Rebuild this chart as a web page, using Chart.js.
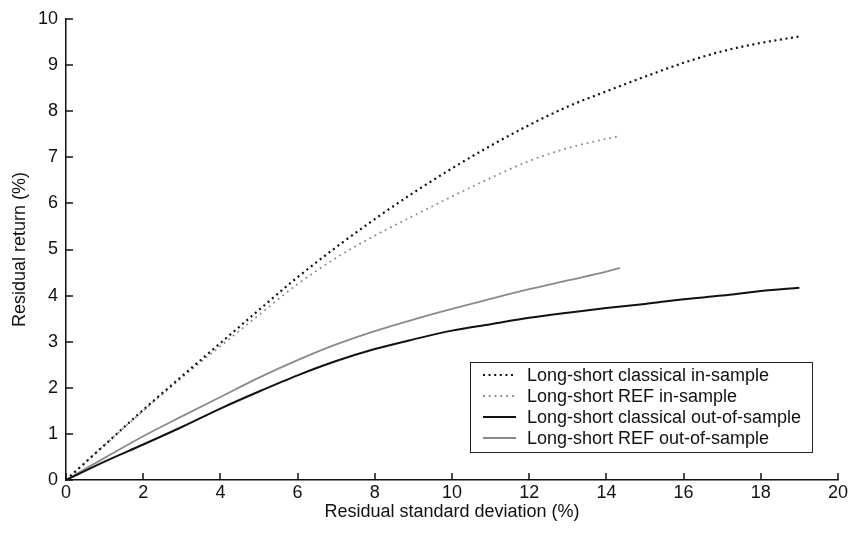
<!DOCTYPE html>
<html>
<head>
<meta charset="utf-8">
<script src="https://cdn.jsdelivr.net/npm/chart.js@4.4.1/dist/chart.umd.min.js"></script>
<style>
html,body{margin:0;padding:0;background:#fff;}
#wrap{width:851px;height:538px;position:relative;}
</style>
</head>
<body>
<div id="wrap"><canvas id="c" width="851" height="538"></canvas></div>
<script>
// Data
const xTicks = [0, 2, 4, 6, 8, 10, 12, 14, 16, 18, 20];
const yTicks = [0, 1, 2, 3, 4, 5, 6, 7, 8, 9, 10];
const seriesLabels = [
  "Long-short classical in-sample",
  "Long-short REF in-sample",
  "Long-short classical out-of-sample",
  "Long-short REF out-of-sample"
];
const classicalInX = [0, 1, 2, 3, 4, 5, 6, 7, 8, 9, 10, 11, 12, 13, 14, 15, 16, 17, 18, 19];
const classicalInY = [0, 0.76, 1.52, 2.25, 2.97, 3.69, 4.4, 5.05, 5.66, 6.23, 6.76, 7.25, 7.7, 8.1, 8.43, 8.75, 9.05, 9.3, 9.48, 9.62];
const refInX = [0, 1, 2, 3, 4, 5, 6, 7, 8, 9, 10, 11, 12, 13, 14, 14.35];
const refInY = [0, 0.76, 1.5, 2.22, 2.9, 3.58, 4.25, 4.82, 5.3, 5.73, 6.15, 6.55, 6.92, 7.2, 7.4, 7.46];
const classicalOutX = [0, 1, 2, 3, 4, 5, 6, 7, 8, 9, 10, 11, 12, 13, 14, 15, 16, 17, 18, 19];
const classicalOutY = [0, 0.4, 0.77, 1.15, 1.55, 1.92, 2.27, 2.58, 2.84, 3.05, 3.24, 3.38, 3.52, 3.63, 3.73, 3.82, 3.92, 4.0, 4.1, 4.17];
const refOutX = [0, 1, 2, 3, 4, 5, 6, 7, 8, 9, 10, 11, 12, 13, 14, 14.35];
const refOutY = [0, 0.48, 0.95, 1.38, 1.8, 2.22, 2.6, 2.94, 3.23, 3.48, 3.71, 3.93, 4.14, 4.33, 4.52, 4.6];

function pts(xs, ys) { return xs.map((x, i) => ({x: x, y: ys[i]})); }

const FONT = "'Liberation Sans', Arial, Helvetica, sans-serif";

const innerTicks = {
  id: 'innerTicks',
  afterDraw(chart) {
    const ctx = chart.ctx;
    const xs = chart.scales.x, ys = chart.scales.y;
    const a = chart.chartArea;
    ctx.save();
    ctx.strokeStyle = '#111';
    ctx.lineWidth = 1.5;
    ctx.beginPath();
    xTicks.forEach(v => {
      const px = Math.round(xs.getPixelForValue(v));
      ctx.moveTo(px, a.bottom);
      ctx.lineTo(px, a.bottom - 7);
    });
    yTicks.forEach(v => {
      const py = Math.round(ys.getPixelForValue(v));
      ctx.moveTo(a.left, py);
      ctx.lineTo(a.left + 7, py);
    });
    ctx.stroke();
    ctx.restore();
  }
};

const boxLegend = {
  id: 'boxLegend',
  afterDraw(chart) {
    const ctx = chart.ctx;
    const bx = 470, by = 362, bw = 342, bh = 90;
    ctx.save();
    ctx.fillStyle = '#fff';
    ctx.fillRect(bx, by, bw, bh);
    ctx.strokeStyle = '#222';
    ctx.lineWidth = 1;
    ctx.strokeRect(bx + 0.5, by + 0.5, bw, bh);
    ctx.font = '18px ' + FONT;
    ctx.textBaseline = 'middle';
    ctx.textAlign = 'left';
    chart.data.datasets.forEach((ds, i) => {
      const y = by + 13 + i * 21;
      ctx.save();
      ctx.strokeStyle = ds.borderColor;
      ctx.lineWidth = ds.borderWidth;
      ctx.setLineDash(ds.borderDash || []);
      ctx.beginPath();
      ctx.moveTo(483, y);
      ctx.lineTo(516, y);
      ctx.stroke();
      ctx.restore();
      ctx.fillStyle = '#111';
      ctx.fillText(ds.label, 527, y + 1);
    });
    ctx.restore();
  }
};

new Chart(document.getElementById('c'), {
  type: 'line',
  data: {
    datasets: [
      {label: seriesLabels[0], data: pts(classicalInX, classicalInY), borderColor: '#111', borderWidth: 2.2, borderDash: [2, 3.6]},
      {label: seriesLabels[1], data: pts(refInX, refInY), borderColor: '#8c8c8c', borderWidth: 1.8, borderDash: [1.8, 4]},
      {label: seriesLabels[2], data: pts(classicalOutX, classicalOutY), borderColor: '#111', borderWidth: 2},
      {label: seriesLabels[3], data: pts(refOutX, refOutY), borderColor: '#8a8a8a', borderWidth: 1.8}
    ]
  },
  options: {
    responsive: false,
    animation: false,
    devicePixelRatio: 1,
    layout: {padding: {top: 19, right: 13, left: 0, bottom: 0}},
    elements: {
      point: {radius: 0},
      line: {cubicInterpolationMode: 'monotone', borderCapStyle: 'butt', fill: false}
    },
    plugins: {legend: {display: false}, tooltip: {enabled: false}},
    scales: {
      x: {
        type: 'linear', min: 0, max: 20,
        grid: {display: false, drawTicks: false},
        border: {display: true, color: '#111', width: 1.5},
        afterBuildTicks(s) { s.ticks = xTicks.map(v => ({value: v})); },
        ticks: {color: '#111', padding: 2, maxRotation: 0, font: {family: FONT, size: 18}},
        title: {display: true, text: 'Residual standard deviation (%)', color: '#111', font: {family: FONT, size: 18}, padding: {top: 0, bottom: 15}},
        afterFit(s) { s.height = 58; }
      },
      y: {
        type: 'linear', min: 0, max: 10,
        grid: {display: false, drawTicks: false},
        border: {display: true, color: '#111', width: 1.5},
        afterBuildTicks(s) { s.ticks = yTicks.map(v => ({value: v})); },
        ticks: {color: '#111', padding: 8, font: {family: FONT, size: 18}},
        title: {display: true, text: 'Residual return (%)', color: '#111', font: {family: FONT, size: 18}, padding: {top: 9, bottom: 0}},
        afterFit(s) { s.width = 66; }
      }
    }
  },
  plugins: [innerTicks, boxLegend]
});
</script>
</body>
</html>
